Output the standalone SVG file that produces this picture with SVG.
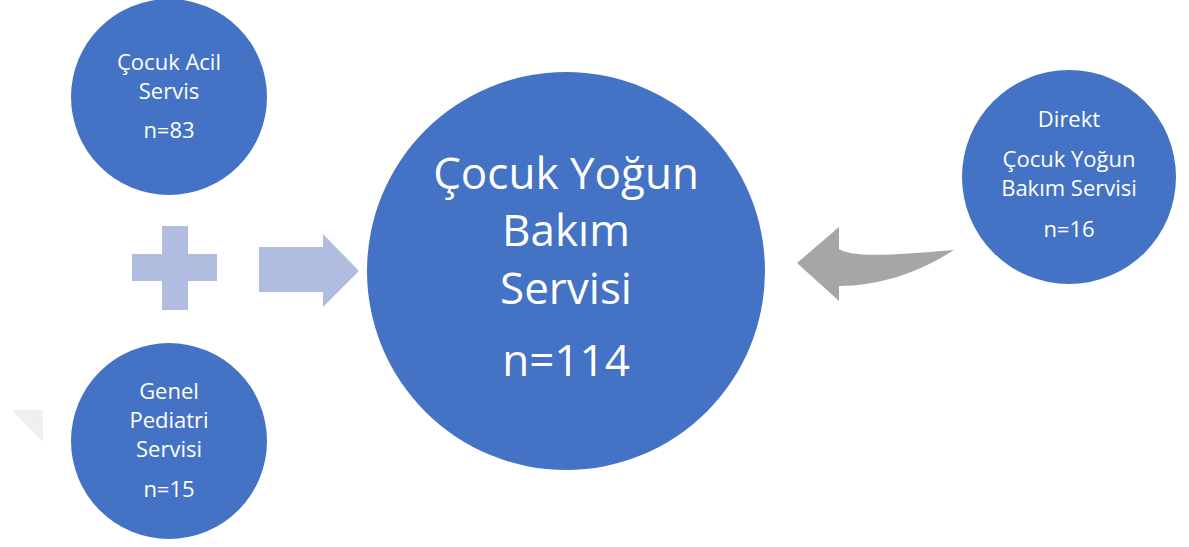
<svg xmlns="http://www.w3.org/2000/svg" width="1189" height="547" viewBox="0 0 1189 547">
<style>
.node{fill:#4472C4}
.t{fill:#fff;font-family:"Open Sans","Liberation Sans",sans-serif;text-anchor:middle}
.s{font-size:22px}
.b{font-size:44px}
.light{fill:#B0BDE0}
.gray{fill:#A6A6A6}
</style>
<rect width="1189" height="547" fill="#fff"/>
<polygon points="12,410 43,410 43,442" fill="#EFEFEF"/>
<g id="connectors">
<path class="light" d="M162,226 H188 V254 H217 V281 H188 V310 H162 V281 H132 V254 H162 Z"/>
<path class="light" d="M259,247 H323 V234 L359,271 L323,307 V292 H259 Z"/>
<path class="gray" d="M797,263 L839,227 L839,249 C852,257 885,256 954,250 C920,272 880,286 839,286 L839,301 Z"/>
</g>
<g id="acil">
<circle class="node" cx="169" cy="97" r="98"/>
<text class="t s" x="169" y="70">Çocuk Acil</text>
<text class="t s" x="169" y="99">Servis</text>
<text class="t s" x="169" y="138">n=83</text>
</g>
<g id="pediatri">
<circle class="node" cx="169" cy="441" r="98"/>
<text class="t s" x="169" y="399">Genel</text>
<text class="t s" x="169" y="428">Pediatri</text>
<text class="t s" x="169" y="457">Servisi</text>
<text class="t s" x="169" y="497">n=15</text>
</g>
<g id="cybs">
<circle class="node" cx="566" cy="271" r="199"/>
<text class="t b" x="566" y="189">Çocuk Yoğun</text>
<text class="t b" x="566" y="246">Bakım</text>
<text class="t b" x="566" y="304">Servisi</text>
<text class="t b" x="566" y="376">n=114</text>
</g>
<g id="direkt">
<circle class="node" cx="1069" cy="177" r="107"/>
<text class="t s" x="1069" y="127">Direkt</text>
<text class="t s" x="1069" y="167">Çocuk Yoğun</text>
<text class="t s" x="1069" y="196">Bakım Servisi</text>
<text class="t s" x="1069" y="237">n=16</text>
</g>
</svg>
